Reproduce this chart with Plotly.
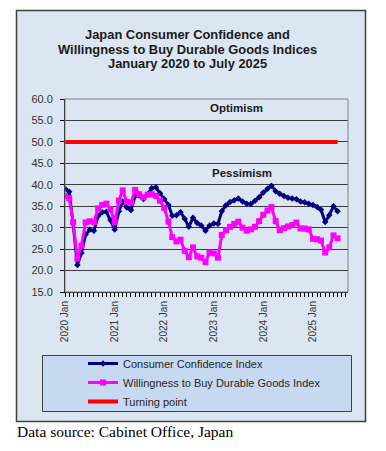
import pandas as pd
import plotly.graph_objects as go

months = pd.date_range("2020-01-01", periods=67, freq="MS")

consumer_confidence = [
    39.1, 38.4, 30.9, 21.3, 24.1, 28.4, 29.5, 29.3, 32.7, 33.6, 33.7, 31.8,
    29.6, 33.8, 36.1, 34.7, 34.1, 37.4, 37.5, 36.7, 37.8, 39.2, 39.4, 38.0,
    36.7, 35.3, 32.8, 32.9, 33.6, 32.1, 30.2, 32.3, 31.1, 30.5, 29.3, 30.5,
    31.0, 30.9, 33.8, 35.2, 36.0, 36.4, 36.8, 36.1, 35.6, 35.5, 36.3, 37.1,
    38.2, 39.1, 39.8, 38.5, 37.9, 37.4, 37.0, 36.8, 36.6, 36.1, 35.9, 35.6,
    35.3, 34.8, 34.2, 31.3, 32.9, 35.0, 33.8,
]

willingness_durables = [
    37.4, 36.9, 31.3, 22.8, 25.8, 31.2, 31.5, 31.3, 34.5, 35.3, 35.6, 34.3,
    31.3, 36.3, 38.7, 36.0, 35.8, 38.8, 37.8, 37.1, 37.7, 37.8, 37.4, 36.3,
    34.6, 31.4, 27.8, 26.8, 27.2, 24.6, 23.1, 25.4, 23.3, 23.0, 22.0, 24.2,
    24.0, 23.0, 28.3, 29.4, 30.2, 30.9, 31.4, 30.0, 29.3, 29.6, 30.2, 31.5,
    33.0, 34.0, 34.8, 31.5, 29.4, 29.9, 30.3, 30.6, 31.2, 29.8, 29.8, 29.6,
    27.4, 27.3, 27.0, 24.2, 25.4, 28.2, 27.5,
]

turning_point = [50.0] * len(months)

y_ticks = [15, 20, 25, 30, 35, 40, 45, 50, 55, 60]

title_lines = ["Japan Consumer Confidence and",
               "Willingness to Buy Durable Goods Indices",
               "January 2020 to July 2025"]

W, H = 386, 451
OX, OY = 8, 8  # page body margin offset
def px(x):
    return (x - OX) / W
def py(y):
    return 1 - (y - OY) / H

fig = go.Figure()
fig.add_trace(go.Scatter(
    x=months, y=consumer_confidence, name="Consumer Confidence Index",
    mode="lines+markers", line=dict(color="#000080", width=3),
    marker=dict(symbol="diamond", size=5, color="#000080"),
))
fig.add_trace(go.Scatter(
    x=months, y=willingness_durables, name="Willingness to Buy Durable Goods Index",
    mode="lines+markers", line=dict(color="#ff00ff", width=3),
    marker=dict(symbol="square", size=6, color="#ff00ff"),
))
fig.add_trace(go.Scatter(
    x=months, y=turning_point, name="Turning point",
    mode="lines", line=dict(color="#ff0000", width=4),
))

shapes = [
    dict(type="rect", xref="paper", yref="paper", x0=px(16.5), x1=px(365.5), y0=py(421.5), y1=py(10.5),
         fillcolor="#dce6f2", line=dict(color="#404040", width=1.5), layer="below"),
    dict(type="rect", xref="paper", yref="paper", x0=px(42.5), x1=px(351.5), y0=py(411.5), y1=py(355.5),
         fillcolor="#c6d9f0", line=dict(color="#404040", width=1), layer="below"),
    dict(type="rect", xref="paper", yref="paper", x0=px(65), x1=px(348), y0=py(292), y1=py(99),
         line=dict(color="#808080", width=1), layer="above"),
]

title_y = [34.5, 49, 63.5]
annotations = []
for t, yy in zip(title_lines, title_y):
    annotations.append(dict(
        text="<b>%s</b>" % t, xref="paper", yref="paper", x=px(187), y=py(yy),
        xanchor="center", yanchor="middle", showarrow=False,
        font=dict(family="Liberation Sans, Arial", size=12.9, color="#1a1a1a")))

annotations += [
    dict(text="<b>Optimism</b>", xref="paper", yref="paper", x=px(236), y=py(108),
         xanchor="center", yanchor="middle", showarrow=False,
         font=dict(family="Liberation Sans, Arial", size=11.5, color="#1a1a1a")),
    dict(text="<b>Pessimism</b>", xref="paper", yref="paper", x=px(242), y=py(172.5),
         xanchor="center", yanchor="middle", showarrow=False,
         font=dict(family="Liberation Sans, Arial", size=11.5, color="#1a1a1a")),
    dict(text="Data source: Cabinet Office, Japan", xref="paper", yref="paper", x=px(15), y=py(431),
         xanchor="left", yanchor="middle", showarrow=False,
         font=dict(family="Liberation Serif, Times New Roman", size=15.5, color="#000000")),
]

fig.update_layout(
    width=W, height=H,
    margin=dict(l=0, r=0, t=0, b=0, autoexpand=False),
    paper_bgcolor="white",
    plot_bgcolor="#c0c0c0",
    font=dict(family="Liberation Sans, Arial", size=11, color="#333333"),
    shapes=shapes,
    annotations=annotations,
    showlegend=True,
    legend=dict(x=px(83), y=py(349), xanchor="left", yanchor="top",
                bgcolor="rgba(0,0,0,0)", borderwidth=0,
                font=dict(family="Liberation Sans, Arial", size=11, color="#262626"),
                tracegroupgap=0),
    xaxis=dict(
        domain=[px(65), px(348)],
        type="date",
        range=["2020-01-01", "2025-09-16"],
        dtick="M12", tick0="2020-01-01", tickformat="%Y %b", tickangle=-90,
        ticks="outside", ticklen=4, tickcolor="#000000",
        minor=dict(dtick="M1", ticks="outside", ticklen=4, tickcolor="#000000", showgrid=False),
        showgrid=False, showline=True, linecolor="#000000", linewidth=1,
        tickfont=dict(size=10, color="#333333"),
        zeroline=False, automargin=False,
    ),
    yaxis=dict(
        domain=[py(292), py(99)],
        range=[15, 60], tickvals=y_ticks, tickformat=".1f",
        ticks="outside", ticklen=4, tickcolor="#000000", ticklabelstandoff=5,
        showgrid=True, gridcolor="#3a3a3a", gridwidth=1,
        showline=True, linecolor="#000000", linewidth=1,
        tickfont=dict(size=11, color="#333333"),
        zeroline=False, automargin=False,
    ),
)

fig.write_html("out.html")
